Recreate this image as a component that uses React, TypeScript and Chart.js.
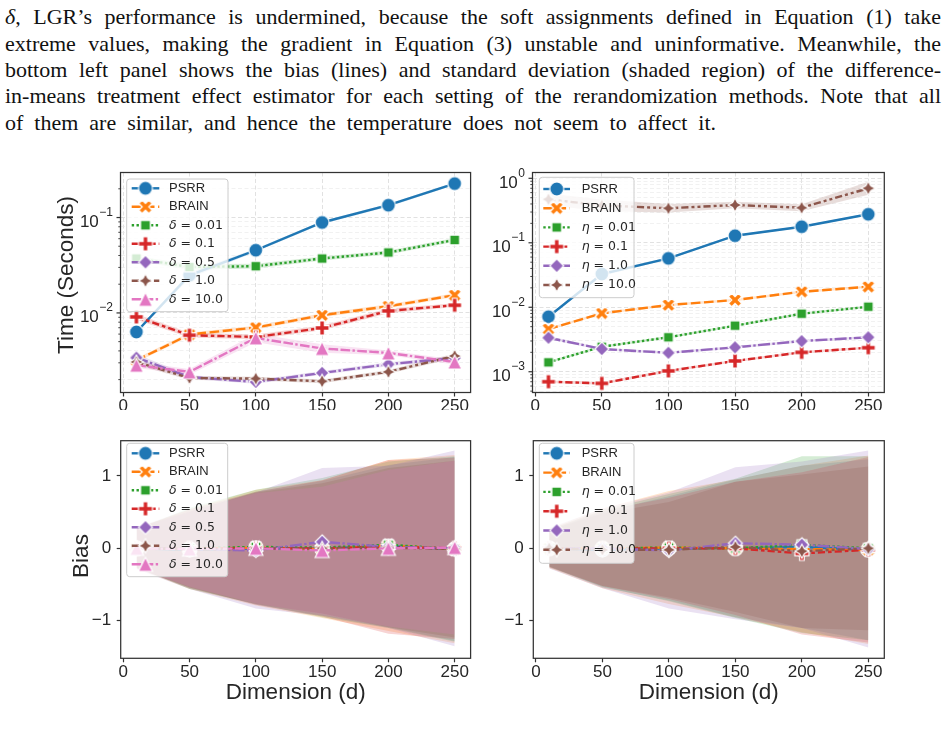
import React, { useEffect, useRef } from 'react';
import { Chart, registerables } from 'chart.js';

Chart.register(...registerables);

// ---------------- data ----------------
const DIMS = [10, 50, 100, 150, 200, 250];
const X_TICKS = [0, 50, 100, 150, 200, 250];
const BIAS_TICKS = [-1, 0, 1];

const DELTA_LABELS = ['PSRR', 'BRAIN', 'δ = 0.01', 'δ = 0.1', 'δ = 0.5', 'δ = 1.0', 'δ = 10.0'];
const ETA_LABELS = ['PSRR', 'BRAIN', 'η = 0.01', 'η = 0.1', 'η = 1.0', 'η = 10.0'];

// top-left: time in seconds (delta settings)
const TIME_DELTA = [
  [0.00632, 0.0248, 0.0454, 0.0887, 0.1346, 0.227], // PSRR
  [0.00319, 0.00594, 0.00703, 0.00946, 0.01175, 0.01535], // BRAIN
  [0.0372, 0.0303, 0.0309, 0.0372, 0.043, 0.0582], // δ=0.01
  [0.00908, 0.00584, 0.0056, 0.00696, 0.0105, 0.01205], // δ=0.1
  [0.0034, 0.00213, 0.00189, 0.00235, 0.0029, 0.00337], // δ=0.5
  [0.00306, 0.00208, 0.00205, 0.00192, 0.00241, 0.00354], // δ=1.0
  [0.00283, 0.00241, 0.00547, 0.00424, 0.00381, 0.00306], // δ=10.0
];
// half-width of the shaded band, in decades
const TIME_DELTA_BAND = [
  [0.015, 0.03, 0.015, 0.015, 0.015, 0.015],
  [0.02, 0.02, 0.02, 0.02, 0.02, 0.02],
  [0.025, 0.03, 0.025, 0.02, 0.02, 0.02],
  [0.03, 0.025, 0.025, 0.025, 0.025, 0.02],
  [0.035, 0.02, 0.02, 0.02, 0.02, 0.02],
  [0.03, 0.02, 0.02, 0.02, 0.02, 0.025],
  [0.03, 0.03, 0.045, 0.045, 0.025, 0.025],
];

// top-right: time in seconds (eta settings)
const TIME_ETA = [
  [0.00713, 0.0328, 0.0574, 0.1288, 0.1775, 0.2765], // PSRR
  [0.00459, 0.00805, 0.01084, 0.01295, 0.0174, 0.0208], // BRAIN
  [0.0014, 0.00244, 0.00342, 0.00518, 0.00794, 0.0102], // η=0.01
  [0.0007, 0.00066, 0.00103, 0.00147, 0.002, 0.00236], // η=0.1
  [0.00337, 0.00225, 0.00197, 0.00239, 0.00299, 0.00342], // η=1.0
  [0.472, 0.38, 0.343, 0.385, 0.35, 0.7], // η=10.0
];
const TIME_ETA_BAND = [
  [0.015, 0.03, 0.015, 0.015, 0.015, 0.015],
  [0.02, 0.02, 0.02, 0.02, 0.02, 0.02],
  [0.02, 0.02, 0.02, 0.02, 0.02, 0.02],
  [0.02, 0.02, 0.02, 0.02, 0.02, 0.02],
  [0.025, 0.02, 0.02, 0.02, 0.02, 0.02],
  [0.09, 0.09, 0.065, 0.05, 0.055, 0.1],
];

// bottom-left: bias mean and standard deviation (delta settings)
const BIAS_DELTA_MEAN = [
  [0.0, -0.02, 0.0, 0.0, 0.03, -0.01],
  [0.0, -0.01, 0.01, -0.01, 0.04, -0.01],
  [0.0, 0.0, 0.02, 0.01, 0.05, -0.01],
  [0.0, 0.0, 0.0, 0.0, 0.02, 0.0],
  [0.0, -0.01, -0.03, 0.09, 0.02, 0.0],
  [0.01, -0.02, 0.0, 0.0, 0.01, -0.01],
  [0.0, -0.01, 0.0, -0.03, 0.0, 0.01],
];
const BIAS_DELTA_SD = [
  [0.27, 0.52, 0.78, 0.93, 1.12, 1.27],
  [0.28, 0.55, 0.8, 0.95, 1.18, 1.3],
  [0.26, 0.56, 0.79, 0.96, 1.15, 1.28],
  [0.27, 0.54, 0.78, 0.94, 1.2, 1.25],
  [0.29, 0.55, 0.8, 1.02, 1.12, 1.35],
  [0.28, 0.53, 0.77, 0.9, 1.1, 1.22],
  [0.27, 0.52, 0.76, 0.88, 1.08, 1.2],
];

// bottom-right: bias mean and standard deviation (eta settings)
const BIAS_ETA_MEAN = [
  [0.0, -0.02, 0.0, 0.0, 0.02, -0.02],
  [0.0, 0.0, 0.01, 0.0, -0.01, -0.02],
  [0.0, 0.0, 0.01, 0.0, 0.05, 0.0],
  [0.0, 0.0, 0.0, 0.0, -0.07, -0.02],
  [0.0, 0.0, -0.03, 0.07, 0.05, -0.01],
  [0.0, -0.02, -0.02, 0.02, -0.04, 0.0],
];
const BIAS_ETA_SD = [
  [0.25, 0.52, 0.72, 0.95, 1.12, 1.25],
  [0.27, 0.55, 0.78, 0.95, 1.15, 1.3],
  [0.26, 0.53, 0.74, 0.96, 1.22, 1.27],
  [0.26, 0.52, 0.7, 0.92, 1.12, 1.28],
  [0.28, 0.55, 0.8, 1.05, 1.15, 1.36],
  [0.25, 0.5, 0.66, 0.9, 1.06, 1.13],
];

const TEXT_LINES = [
  ', LGR’s performance is undermined, because the soft assignments defined in Equation (1) take',
  'extreme values, making the gradient in Equation (3) unstable and uninformative. Meanwhile, the',
  'bottom left panel shows the bias (lines) and standard deviation (shaded region) of the difference-',
  'in-means treatment effect estimator for each setting of the rerandomization methods. Note that all',
  'of them are similar, and hence the temperature does not seem to affect it.',
];

// ---------------- styles ----------------
const COLORS = ['#1f77b4', '#ff7f0e', '#2ca02c', '#d62728', '#9467bd', '#8c564b', '#e377c2'];
const DASHES = [[], [4, 1.5], [1, 1], [3, 1.25, 1.5, 1.25], [5, 1, 1, 1], [3, 1.25, 1.25, 1.25, 1.25, 1.25], [4, 1, 4, 1, 1, 1]];
const MARKERS = ['o', 'X', 's', 'P', 'D', '*', '^'];
const LW = 2.4;
const DASH_SCALE = 2.4;
const MS = 14;
const MEW = 1.2;
const SANS = '"Liberation Sans", Arial, sans-serif';
const TEXT = '#262626';
const SPINE = '#333333';
const GRID = '#d9d9d9';
const GRID_MINOR = '#e8e8e8';

Chart.defaults.font.family = SANS;

function rgba(hex: string, a: number) {
  const n = parseInt(hex.slice(1), 16);
  return `rgba(${(n >> 16) & 255},${(n >> 8) & 255},${n & 255},${a})`;
}

function markerCanvas(kind: string, color: string): HTMLCanvasElement {
  const S = 24;
  const c = document.createElement('canvas');
  c.width = S;
  c.height = S;
  const g = c.getContext('2d')!;
  g.translate(S / 2, S / 2);
  const h = MS / 2;
  const poly = (pts: number[][]) => {
    g.beginPath();
    pts.forEach(([x, y], k) => (k ? g.lineTo(x, y) : g.moveTo(x, y)));
    g.closePath();
  };
  const plus = (rot: number) => {
    const w = MS / 6;
    const base = [[-w, -h], [w, -h], [w, -w], [h, -w], [h, w], [w, w], [w, h], [-w, h], [-w, w], [-h, w], [-h, -w], [-w, -w]];
    const cs = Math.cos(rot), sn = Math.sin(rot);
    poly(base.map(([x, y]) => [x * cs - y * sn, x * sn + y * cs]));
  };
  switch (kind) {
    case 'o':
      g.beginPath();
      g.arc(0, 0, h, 0, Math.PI * 2);
      break;
    case 'X':
      plus(Math.PI / 4);
      break;
    case 'P':
      plus(0);
      break;
    case 's': {
      const a = h / Math.SQRT2;
      poly([[-a, -a], [a, -a], [a, a], [-a, a]]);
      break;
    }
    case 'D':
      poly([[0, -h], [h, 0], [0, h], [-h, 0]]);
      break;
    case '*': {
      const pts: number[][] = [];
      for (let k = 0; k < 8; k++) {
        const r = k % 2 === 0 ? h : h * 0.5;
        const ang = -Math.PI / 2 + (k * Math.PI) / 4;
        pts.push([r * Math.cos(ang), r * Math.sin(ang)]);
      }
      poly(pts);
      break;
    }
    case '^':
      poly([[0, -h], [h, h], [-h, h]]);
      break;
  }
  g.fillStyle = color;
  g.fill();
  g.lineWidth = MEW;
  g.strokeStyle = '#ffffff';
  g.lineJoin = 'miter';
  g.stroke();
  return c;
}

function logTicks(min: number, max: number) {
  const out: any[] = [];
  for (let e = Math.floor(Math.log10(min)); e <= Math.ceil(Math.log10(max)); e++) {
    for (let m = 1; m <= 9; m++) {
      const v = m * Math.pow(10, e);
      if (v >= min && v <= max) out.push({ value: v, major: m === 1 });
    }
  }
  return out;
}

// ---------------- panels ----------------
const BIAS_MIN = -1.518;
const BIAS_MAX = 1.486;

const PANELS = [
  {
    key: 'tl', cl: 40, ct: 160, W: 440, H: 250,
    area: [120.5, 172.5, 472.5, 392.5],
    log: true, yMin: Math.pow(10, -2.834), yMax: Math.pow(10, -0.528),
    labels: DELTA_LABELS, values: TIME_DELTA,
    lower: TIME_DELTA.map((s, i) => s.map((v, j) => v / Math.pow(10, TIME_DELTA_BAND[i][j]))),
    upper: TIME_DELTA.map((s, i) => s.map((v, j) => v * Math.pow(10, TIME_DELTA_BAND[i][j]))),
    grid: true,
    legend: { box: [126.7, 179, 228, 311.7], y0: 188.3, step: 18.5, lx0: 131.7, lx1: 159.3, mx: 145.5, tx: 169 },
    yTitle: { text: 'Time (Seconds)', x: 72.5, y: 275 },
    xTitle: null,
  },
  {
    key: 'tr', cl: 480, ct: 160, W: 440, H: 250,
    area: [532.5, 172.5, 884.3, 392.5],
    log: true, yMin: Math.pow(10, -3.322), yMax: Math.pow(10, 0.09),
    labels: ETA_LABELS, values: TIME_ETA,
    lower: TIME_ETA.map((s, i) => s.map((v, j) => v / Math.pow(10, TIME_ETA_BAND[i][j]))),
    upper: TIME_ETA.map((s, i) => s.map((v, j) => v * Math.pow(10, TIME_ETA_BAND[i][j]))),
    grid: true,
    legend: { box: [539.3, 177.3, 634, 297.7], y0: 189, step: 19.2, lx0: 543.3, lx1: 570, mx: 556.7, tx: 581.7 },
    yTitle: null,
    xTitle: null,
  },
  {
    key: 'bl', cl: 40, ct: 425, W: 440, H: 300,
    area: [120.7, 436, 472.7, 658.3],
    log: false, yMin: BIAS_MIN, yMax: BIAS_MAX,
    labels: DELTA_LABELS, values: BIAS_DELTA_MEAN,
    lower: BIAS_DELTA_MEAN.map((s, i) => s.map((v, j) => v - BIAS_DELTA_SD[i][j])),
    upper: BIAS_DELTA_MEAN.map((s, i) => s.map((v, j) => v + BIAS_DELTA_SD[i][j])),
    grid: false,
    legend: { box: [126.7, 443.3, 227.7, 576.7], y0: 453.3, step: 18.5, lx0: 131.7, lx1: 159.3, mx: 145.5, tx: 169 },
    yTitle: { text: 'Bias', x: 88.3, y: 556 },
    xTitle: 'Dimension (d)',
  },
  {
    key: 'br', cl: 480, ct: 425, W: 440, H: 300,
    area: [533.3, 436, 884.3, 658.3],
    log: false, yMin: BIAS_MIN, yMax: BIAS_MAX,
    labels: ETA_LABELS, values: BIAS_ETA_MEAN,
    lower: BIAS_ETA_MEAN.map((s, i) => s.map((v, j) => v - BIAS_ETA_SD[i][j])),
    upper: BIAS_ETA_MEAN.map((s, i) => s.map((v, j) => v + BIAS_ETA_SD[i][j])),
    grid: false,
    legend: { box: [539.3, 443.3, 634, 563.3], y0: 453.3, step: 19.3, lx0: 543.3, lx1: 570, mx: 556.7, tx: 581.7 },
    yTitle: null,
    xTitle: 'Dimension (d)',
  },
];

function drawLegendLabel(ctx: CanvasRenderingContext2D, text: string, x: number, y: number) {
  ctx.fillStyle = TEXT;
  ctx.textBaseline = 'middle';
  ctx.textAlign = 'left';
  const first = text[0];
  if (first === 'δ' || first === 'η') {
    ctx.font = 'italic 12.5px "DejaVu Sans"';
    ctx.fillText(first, x, y);
    const w = ctx.measureText(first).width;
    ctx.font = '12.5px "DejaVu Sans"';
    ctx.fillText(text.slice(1), x + w, y);
  } else {
    ctx.font = `13px ${SANS}`;
    ctx.fillText(text, x, y);
  }
}

function panelPlugin(p: any, markers: HTMLCanvasElement[]) {
  return {
    id: 'panel_' + p.key,
    afterDatasetsDraw(chart: any) {
      const { ctx, chartArea: a } = chart;
      ctx.save();
      ctx.strokeStyle = SPINE;
      ctx.lineWidth = 1.25;
      ctx.setLineDash([]);
      ctx.strokeRect(a.left, a.top, a.right - a.left, a.bottom - a.top);
      ctx.restore();
    },
    afterDraw(chart: any) {
      const { ctx, chartArea: a } = chart;
      const ys = chart.scales.y;
      ctx.save();
      if (p.log) {
        for (const t of ys.ticks) {
          const y = ys.getPixelForValue(t.value);
          const len = t.major ? 4 : 2.2;
          ctx.strokeStyle = SPINE;
          ctx.lineWidth = t.major ? 1.2 : 0.9;
          ctx.setLineDash([]);
          ctx.beginPath();
          ctx.moveTo(a.left - len, y);
          ctx.lineTo(a.left, y);
          ctx.stroke();
          if (t.major) {
            const e = Math.round(Math.log10(t.value));
            const expStr = e < 0 ? '\u2212' + -e : String(e);
            const right = a.left - 8;
            ctx.fillStyle = TEXT;
            ctx.textAlign = 'left';
            ctx.textBaseline = 'alphabetic';
            ctx.font = `12px ${SANS}`;
            const ew = ctx.measureText(expStr).width;
            ctx.font = `17px ${SANS}`;
            const bw = ctx.measureText('10').width;
            const x0 = right - ew - bw;
            ctx.fillText('10', x0, y + 9.5);
            ctx.font = `12px ${SANS}`;
            ctx.fillText(expStr, x0 + bw + 0.5, y - 1.5);
          }
        }
      }
      if (p.yTitle) {
        ctx.save();
        ctx.translate(p.yTitle.x - p.cl, p.yTitle.y - p.ct);
        ctx.rotate(-Math.PI / 2);
        ctx.fillStyle = TEXT;
        ctx.font = `22.5px ${SANS}`;
        ctx.textAlign = 'center';
        ctx.textBaseline = 'alphabetic';
        ctx.fillText(p.yTitle.text, 0, 0);
        ctx.restore();
      }
      // legend
      const L = p.legend;
      const bx = L.box[0] - p.cl, by = L.box[1] - p.ct, bw = L.box[2] - L.box[0], bh = L.box[3] - L.box[1];
      const r = 3;
      ctx.beginPath();
      ctx.moveTo(bx + r, by);
      ctx.lineTo(bx + bw - r, by);
      ctx.arcTo(bx + bw, by, bx + bw, by + r, r);
      ctx.lineTo(bx + bw, by + bh - r);
      ctx.arcTo(bx + bw, by + bh, bx + bw - r, by + bh, r);
      ctx.lineTo(bx + r, by + bh);
      ctx.arcTo(bx, by + bh, bx, by + bh - r, r);
      ctx.lineTo(bx, by + r);
      ctx.arcTo(bx, by, bx + r, by, r);
      ctx.closePath();
      ctx.fillStyle = 'rgba(255,255,255,0.8)';
      ctx.fill();
      ctx.strokeStyle = '#cccccc';
      ctx.lineWidth = 1;
      ctx.setLineDash([]);
      ctx.stroke();
      p.labels.forEach((lab: string, i: number) => {
        const y = L.y0 + i * L.step - p.ct;
        ctx.strokeStyle = COLORS[i];
        ctx.lineWidth = LW;
        ctx.setLineDash(DASHES[i].map((d) => d * DASH_SCALE));
        ctx.beginPath();
        ctx.moveTo(L.lx0 - p.cl, y);
        ctx.lineTo(L.lx1 - p.cl, y);
        ctx.stroke();
        ctx.setLineDash([]);
        const m = markers[i];
        ctx.drawImage(m, L.mx - p.cl - m.width / 2, y - m.height / 2);
        drawLegendLabel(ctx, lab, L.tx - p.cl, y);
      });
      ctx.restore();
    },
  };
}

function buildConfig(p: any) {
  const aL = p.area[0] - p.cl;
  const aT = p.area[1] - p.ct;
  const aR = p.area[2] - p.cl;
  const aB = p.area[3] - p.ct;
  const n = p.values.length;
  const markers = p.values.map((_: any, i: number) => markerCanvas(MARKERS[i], COLORS[i]));
  const datasets: any[] = [];
  p.values.forEach((vals: number[], i: number) => {
    // bands: earlier series get a higher order so they are painted first
    datasets.push({
      data: DIMS.map((x, j) => ({ x, y: p.upper[i][j] })),
      fill: '+1', backgroundColor: rgba(COLORS[i], 0.2), borderColor: 'rgba(0,0,0,0)',
      borderWidth: 0, pointRadius: 0, order: 100 + (n - i),
    });
    datasets.push({
      data: DIMS.map((x, j) => ({ x, y: p.lower[i][j] })),
      fill: false, backgroundColor: 'rgba(0,0,0,0)', borderColor: 'rgba(0,0,0,0)',
      borderWidth: 0, pointRadius: 0, order: 100 + (n - i),
    });
    datasets.push({
      data: DIMS.map((x, j) => ({ x, y: vals[j] })),
      fill: false, borderColor: COLORS[i], backgroundColor: COLORS[i],
      borderWidth: LW, borderDash: DASHES[i].map((d) => d * DASH_SCALE),
      pointStyle: markers[i], pointRadius: 7, pointHoverRadius: 7,
      tension: 0, order: n - i,
    });
  });
  const xTitlePad = p.H - 13.5 - (693 - p.ct);
  const yScale = p.log
    ? {
        type: 'logarithmic', min: p.yMin, max: p.yMax, bounds: 'data',
        afterBuildTicks: (s: any) => { s.ticks = logTicks(p.yMin, p.yMax); },
        afterFit: (s: any) => { s.width = aL; },
        ticks: { display: false, autoSkip: false },
        grid: {
          display: true, drawOnChartArea: true, drawTicks: false,
          color: (c: any) => (c.tick && c.tick.major ? GRID : GRID_MINOR),
          lineWidth: (c: any) => (c.tick && c.tick.major ? 0.8 : 0.6),
        },
        border: { display: false, dash: [4, 2.5] },
      }
    : {
        type: 'linear', min: p.yMin, max: p.yMax, bounds: 'data',
        afterBuildTicks: (s: any) => { s.ticks = BIAS_TICKS.map((v) => ({ value: v })); },
        afterFit: (s: any) => { s.width = aL; },
        ticks: {
          autoSkip: false, padding: 5.5, color: TEXT, font: { family: SANS, size: 17 },
          callback: (v: number) => (v < 0 ? '\u2212' + Math.abs(v) : String(v)),
        },
        grid: { display: true, drawOnChartArea: false, drawTicks: true, tickLength: 4, tickColor: SPINE, tickWidth: 1.2 },
        border: { display: false },
      };
  return {
    type: 'line',
    data: { datasets },
    options: {
      responsive: false, animation: false, devicePixelRatio: 1, events: [],
      layout: { padding: { left: 0, top: aT, right: p.W - aR, bottom: 0 } },
      plugins: {
        legend: { display: false }, tooltip: { enabled: false }, title: { display: false },
        filler: { drawTime: 'beforeDatasetsDraw' },
      },
      scales: {
        x: {
          type: 'linear', min: -2, max: 262, bounds: 'data',
          afterBuildTicks: (s: any) => { s.ticks = X_TICKS.map((v) => ({ value: v })); },
          afterFit: (s: any) => { s.height = p.H - aB; },
          ticks: { autoSkip: false, maxRotation: 0, padding: 0, color: TEXT, font: { family: SANS, size: 17 } },
          grid: {
            display: true, drawOnChartArea: p.grid, color: GRID, lineWidth: 0.8,
            drawTicks: true, tickLength: 4, tickColor: SPINE, tickWidth: 1.2,
          },
          border: { display: false, dash: [4, 2.5] },
          title: p.xTitle
            ? { display: true, text: p.xTitle, color: TEXT, font: { family: SANS, size: 22.5 }, padding: { top: 0, bottom: xTitlePad } }
            : { display: false },
        },
        y: yScale,
      },
    },
    plugins: [panelPlugin(p, markers)],
  };
}

function Panel({ p }: { p: any }) {
  const ref = useRef<HTMLCanvasElement>(null);
  useEffect(() => {
    const chart = new Chart(ref.current as HTMLCanvasElement, buildConfig(p) as any);
    return () => chart.destroy();
  }, [p]);
  return (
    <canvas
      ref={ref}
      width={p.W}
      height={p.H}
      style={{ position: 'absolute', left: p.cl, top: p.ct, width: p.W, height: p.H }}
    />
  );
}

export default function App() {
  return (
    <div style={{ position: 'absolute', left: 0, top: 0, width: 947, height: 744, overflow: 'hidden', background: '#ffffff' }}>
      {TEXT_LINES.map((t, i) => (
        <div
          key={i}
          style={{
            position: 'absolute', left: 5, top: 4.3 + i * 26.3, width: 936, height: 27,
            font: '22px "Liberation Serif", serif', lineHeight: '26.9px', color: '#111',
            textAlign: i < 4 ? 'justify' : 'left', textAlignLast: i < 4 ? 'justify' : 'left',
            wordSpacing: i < 4 ? 'normal' : '5.5px',
          } as any}
        >
          {i === 0 ? <i>δ</i> : null}
          {t}
        </div>
      ))}
      {PANELS.map((p) => (
        <Panel key={p.key} p={p} />
      ))}
    </div>
  );
}
